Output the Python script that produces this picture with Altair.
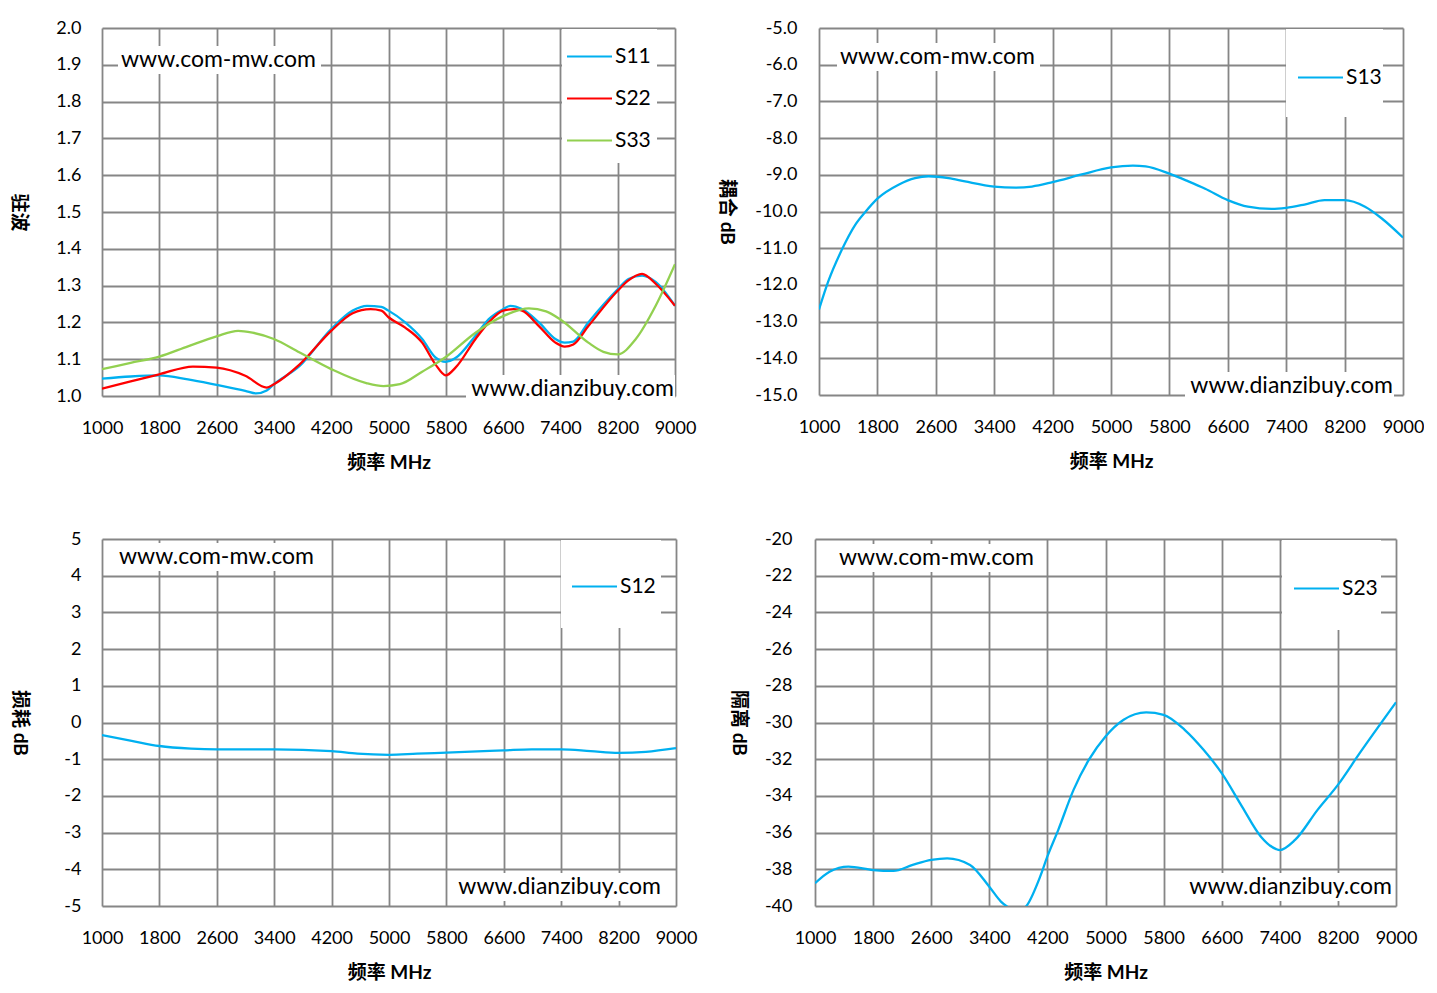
import altair as alt
import pandas as pd

FONT = "Lato, 'Noto Sans CJK SC', sans-serif"
GRID = "#868686"
BLUE = "#00B0F0"
RED = "#FF0000"
GREEN = "#92D050"

freq_ticks = [1000, 1800, 2600, 3400, 4200, 5000, 5800, 6600, 7400, 8200, 9000]

# ---- VSWR panel (S11, S22, S33)
s11_f = [1000, 1400, 1800, 2200, 2600, 3000, 3150, 3300, 3400, 3760, 4200, 4500, 4700, 4900, 5000,
         5233, 5470, 5655, 5800, 5935, 6215, 6400, 6600, 6700, 6865, 7100, 7330, 7460, 7580, 7790,
         8200, 8350, 8540, 8730, 9000]
s11_v = [1.047, 1.053, 1.056, 1.045, 1.030, 1.014, 1.007, 1.015, 1.032, 1.082, 1.182, 1.232, 1.245, 1.242, 1.232,
         1.200, 1.155, 1.105, 1.093, 1.103, 1.164, 1.209, 1.236, 1.245, 1.236, 1.200, 1.155, 1.145, 1.148, 1.200,
         1.290, 1.318, 1.327, 1.310, 1.245]

s22_f = [1000, 1400, 1800, 2270, 2600, 3000, 3300, 3400, 3760, 4200, 4500, 4750, 4900, 5000,
         5233, 5470, 5655, 5800, 5935, 6215, 6400, 6600, 6750, 6865, 7100, 7330, 7460, 7580, 7790,
         8200, 8350, 8540, 8730, 9000]
s22_v = [1.020, 1.040, 1.059, 1.080, 1.077, 1.055, 1.023, 1.032, 1.086, 1.177, 1.225, 1.236, 1.232, 1.214,
         1.186, 1.145, 1.086, 1.056, 1.077, 1.155, 1.200, 1.232, 1.236, 1.232, 1.190, 1.145, 1.134, 1.140, 1.190,
         1.286, 1.314, 1.332, 1.305, 1.245]

s33_f = [1000, 1400, 1800, 2200, 2600, 2900, 3100, 3400, 3760, 4200, 4690, 4930, 5160, 5470, 5800,
         6215, 6600, 6960, 7200, 7400, 7790, 8000, 8200, 8450, 8730, 9000]
s33_v = [1.073, 1.090, 1.107, 1.135, 1.162, 1.177, 1.172, 1.155, 1.118, 1.073, 1.035, 1.027, 1.032, 1.066, 1.106,
         1.172, 1.217, 1.238, 1.230, 1.208, 1.145, 1.120, 1.113, 1.154, 1.245, 1.358]

# ---- Coupling S13
s13_f = [1000, 1128, 1311, 1494, 1640, 1800, 2090, 2316, 2500, 2774, 3000, 3400, 3690, 3917, 4200,
         4600, 5000, 5300, 5475, 5800, 6060, 6290, 6600, 6875, 7200, 7400, 7650, 7925, 8200, 8480, 8710, 9000]
s13_v = [-12.67, -11.9, -11.05, -10.37, -10.0, -9.65, -9.27, -9.09, -9.04, -9.09, -9.18, -9.32, -9.35, -9.32, -9.20,
         -8.99, -8.80, -8.75, -8.77, -8.97, -9.18, -9.38, -9.69, -9.87, -9.93, -9.90, -9.81, -9.69, -9.69, -9.87,
         -10.19, -10.71]

# ---- Loss S12
s12_f = [1000, 1413, 1800, 2240, 2600, 3400, 4200, 4560, 5000, 5390, 5800, 6600, 6990, 7400, 7810, 8200, 8580, 9000]
s12_v = [-0.345, -0.50, -0.64, -0.71, -0.73, -0.73, -0.78, -0.85, -0.88, -0.85, -0.82, -0.76, -0.73, -0.73,
         -0.78, -0.83, -0.80, -0.70]

# ---- Isolation S23
s23_f = [1000, 1200, 1460, 1800, 2080, 2345, 2600, 2820, 3135, 3400, 3560, 3715, 3800, 3920, 4100, 4200,
         4350, 4560, 4770, 5000, 5250, 5560, 5800, 6090, 6350, 6600, 6880, 7140, 7350, 7400, 7610, 7920,
         8200, 8500, 9000]
s23_v = [-38.76, -38.13, -37.85, -38.04, -38.09, -37.76, -37.49, -37.40, -37.76, -38.95, -39.76, -40.2, -40.35,
         -39.95, -38.4, -37.3, -35.85, -33.67, -32.04, -30.76, -29.85, -29.45, -29.58, -30.4, -31.49, -32.76,
         -34.58, -36.22, -36.9, -36.95, -36.4, -34.76, -33.4, -31.67, -28.9]


def long_df(series):
    rows = []
    for name, fs, vs in series:
        for f, v in zip(fs, vs):
            rows.append({"f": f, "v": v, "s": name})
    return pd.DataFrame(rows)


ONE = pd.DataFrame({"k": [0]})
WM_SIZE = 23


def white_box(x1, x2, y1, y2):
    return alt.Chart(ONE).mark_rect(color="white").encode(
        x=alt.value(x1), x2=alt.value(x2), y=alt.value(y1), y2=alt.value(y2))


def label(txt, x, y, align):
    return alt.Chart(ONE).mark_text(
        text=txt, align=align, baseline="middle", font=FONT, fontSize=WM_SIZE, color="black"
    ).encode(x=alt.value(x), y=alt.value(y))


def panel(series, colors, ydom, yvals, yfmt, ytitle, w, h, label_pad, title_pad,
          leg_x, leg_y, leg_box, wm1, wm2):
    df = long_df(series)
    names = [s[0] for s in series]
    ylabel = "replace(format(datum.value, '%s'), '\u2212', '-')" % yfmt
    line = alt.Chart(df).mark_line(strokeWidth=2.3, interpolate="monotone", clip=True).encode(
        x=alt.X("f:Q", scale=alt.Scale(domain=[1000, 9000], nice=False, zero=False),
                axis=alt.Axis(values=freq_ticks, format="d", title="频率 MHz", labelOverlap=False,
                              labelFlush=False, labelPadding=23, titlePadding=16)),
        y=alt.Y("v:Q", scale=alt.Scale(domain=ydom, nice=False, zero=False),
                axis=alt.Axis(values=yvals, labelExpr=ylabel, title=ytitle, titleAngle=90,
                              titleBaseline="top", labelOverlap=False, labelFlush=False,
                              labelPadding=label_pad, titlePadding=title_pad)),
        color=alt.Color("s:N", scale=alt.Scale(domain=names, range=colors),
                        legend=alt.Legend(orient="none", legendX=leg_x, legendY=leg_y, title=None,
                                          symbolType="stroke", symbolSize=2025, symbolStrokeWidth=2,
                                          labelFontSize=21, labelFont=FONT, labelColor="black",
                                          labelOffset=2, rowPadding=8, padding=0, zindex=1)),
    )
    box = white_box(*leg_box)
    wb1 = white_box(wm1[0] - 3, wm1[0] + 200, wm1[1] - 14, wm1[1] + 14)
    wb2 = white_box(wm2[0] - 208, wm2[0] + 1, wm2[1] - 14, wm2[1] + 14)
    t1 = label("www.com-mw.com", wm1[0], wm1[1], "left")
    t2 = label("www.dianzibuy.com", wm2[0], wm2[1], "right")
    return alt.layer(box, wb1, wb2, line, t1, t2).properties(width=w, height=h)


pA = panel([("S11", s11_f, s11_v), ("S22", s22_f, s22_v), ("S33", s33_f, s33_v)],
           [BLUE, RED, GREEN], [1.0, 2.0], [round(1 + 0.1 * i, 1) for i in range(11)], ".1f", "驻波",
           573, 368, 21, 28, 464, 5, (460, 555, 1, 135), (19, 32), (572, 361))
pB = panel([("S13", s13_f, s13_v)], [BLUE], [-15, -5], list(range(-15, -4)), ".1f", "耦合 dB",
           584, 367, 22, 19, 478, 26, (467, 564, 1, 89), (21, 29), (574, 358))
pC = panel([("S12", s12_f, s12_v)], [BLUE], [-5, 5], list(range(-5, 6)), "d", "损耗 dB",
           574, 367, 21, 35, 469, 24, (459, 559, 1, 89), (17, 18), (559, 348))
pD = panel([("S23", s23_f, s23_v)], [BLUE], [-40, -20], list(range(-40, -19, 2)), "d", "隔离 dB",
           581, 367, 23, 17, 478, 26, (467, 566, 1, 91), (24, 19), (577, 348))

row1 = alt.hconcat(pA, pB, spacing=20).resolve_scale(color="independent")
row2 = alt.hconcat(pC, pD, spacing=31).resolve_scale(color="independent")
chart = alt.vconcat(row1, row2, spacing=58).resolve_scale(color="independent").properties(
    padding={"left": 0, "top": 11, "right": 0, "bottom": 0}
).configure_view(stroke=None).configure_axis(
    grid=True, gridColor=GRID, gridWidth=1.8, gridOpacity=1, domain=False, ticks=False,
    labelFont=FONT, labelFontSize=18, labelColor="black",
    titleFont=FONT, titleFontSize=19, titleFontWeight="bold", titleColor="black"
)

chart.save("out.html", embed_options={"renderer": "svg", "actions": False})
